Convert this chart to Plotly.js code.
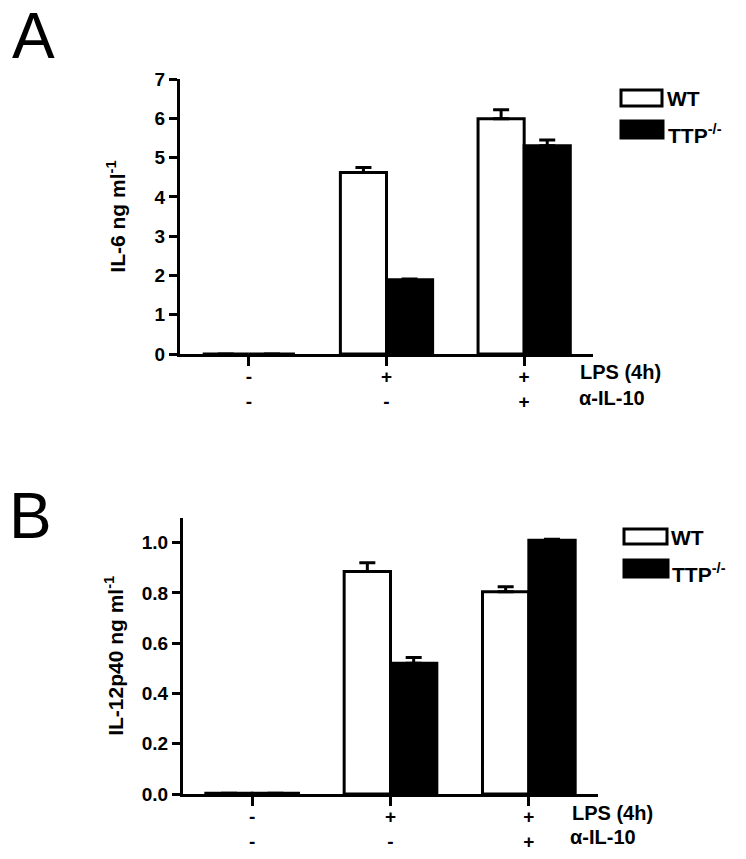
<!DOCTYPE html>
<html>
<head>
<meta charset="utf-8">
<script src="https://cdn.plot.ly/plotly-3.0.1.min.js"></script>
<style>
  html, body { margin: 0; padding: 0; background: #fff; }
  #chart { width: 746px; height: 859px; }
</style>
</head>
<body>
<div id="chart"></div>
<script>
// treatment groups and the two rows of +/- under the x axis
var categories = ['none', 'LPS', 'LPS + anti-IL-10'];
var lpsRow = ['-', '+', '+'];
var il10Row = ['-', '-', '+'];

// panel A: IL-6 (ng/ml), mean and upper error
var il6WT = [0, 4.62, 5.99];
var il6WTErr = [0, 0.13, 0.23];
var il6TTP = [0, 1.89, 5.30];
var il6TTPErr = [0, 0.02, 0.15];

// panel B: IL-12p40 (ng/ml)
var il12WT = [0.003, 0.885, 0.805];
var il12WTErr = [0, 0.035, 0.02];
var il12TTP = [0.003, 0.52, 1.01];
var il12TTPErr = [0, 0.023, 0.004];

var W = 746, H = 859;
function px(x) { return x / W; }
function py(y) { return 1 - y / H; }

var FONT = 'Liberation Sans, Arial, sans-serif';

function makeBars(name, vals, errs, fill, xa, ya) {
  return {
    type: 'bar',
    name: name,
    x: categories,
    y: vals,
    xaxis: xa,
    yaxis: ya,
    marker: {color: fill, line: {color: '#000', width: 3}},
    error_y: {
      type: 'data',
      symmetric: false,
      array: errs,
      arrayminus: errs.map(function () { return 0; }),
      color: '#000',
      thickness: 3,
      width: 8
    },
    showlegend: false,
    hoverinfo: 'skip'
  };
}

var data = [
  makeBars('WT', il6WT, il6WTErr, '#fff', 'x', 'y'),
  makeBars('TTP-/-', il6TTP, il6TTPErr, '#000', 'x', 'y'),
  makeBars('WT', il12WT, il12WTErr, '#fff', 'x2', 'y2'),
  makeBars('TTP-/-', il12TTP, il12TTPErr, '#000', 'x2', 'y2')
];

var tickText = categories.map(function (c, i) { return lpsRow[i] + '<br>' + il10Row[i]; });

function xAxis(domain, anchor) {
  return {
    domain: domain,
    anchor: anchor,
    type: 'category',
    range: [-0.5, 2.5],
    tickmode: 'array',
    tickvals: categories,
    ticktext: tickText,
    showline: true,
    linewidth: 3,
    linecolor: '#000',
    ticks: 'outside',
    ticklen: 9,
    tickwidth: 3,
    tickcolor: '#000',
    ticklabelstandoff: -6,
    showgrid: false,
    zeroline: false,
    tickfont: {family: FONT, size: 19, weight: 'bold', color: '#000'},
    fixedrange: true
  };
}

function yAxis(domain, anchor, range, dtick, fmt, title, standoff) {
  return {
    domain: domain,
    anchor: anchor,
    range: range,
    dtick: dtick,
    tick0: 0,
    tickformat: fmt,
    showline: true,
    linewidth: 3,
    linecolor: '#000',
    ticks: 'outside',
    ticklen: 8,
    tickwidth: 3,
    tickcolor: '#000',
    showgrid: false,
    zeroline: false,
    tickfont: {family: FONT, size: 19, weight: 'bold', color: '#000'},
    title: {text: title, standoff: standoff,
            font: {family: FONT, size: 21, weight: 'bold', color: '#000'}},
    fixedrange: true
  };
}

function label(text, x, y, size, weight) {
  return {
    text: text, xref: 'paper', yref: 'paper', x: px(x), y: py(y),
    xanchor: 'left', yanchor: 'middle', showarrow: false,
    font: {family: FONT, size: size || 20, weight: weight || 'bold', color: '#000'}
  };
}

function box(x0, y0, x1, y1, fill) {
  return {
    type: 'rect', xref: 'paper', yref: 'paper',
    x0: px(x0), x1: px(x1), y0: py(y1), y1: py(y0),
    fillcolor: fill, line: {color: '#000', width: 3}
  };
}

var layout = {
  width: W,
  height: H,
  margin: {l: 0, r: 0, t: 0, b: 0},
  paper_bgcolor: '#fff',
  plot_bgcolor: '#fff',
  barmode: 'group',
  bargap: 0.33,
  bargroupgap: 0,
  showlegend: false,
  xaxis: xAxis([px(180), px(593)], 'y'),
  yaxis: yAxis([py(354), py(79)], 'x', [0, 7], 1, 'd', 'IL-6 ng ml<sup>-1</sup>', 24),
  xaxis2: xAxis([px(183), px(598)], 'y2'),
  yaxis2: yAxis([py(794), py(517.6)], 'x2', [0, 1.1], 0.2, '.1f', 'IL-12p40 ng ml<sup>-1</sup>', 13),
  shapes: [
    box(621, 90, 662, 106, '#fff'),
    box(621, 121, 663, 138, '#000'),
    box(624, 529, 667, 544, '#fff'),
    box(624, 560, 668, 577, '#000')
  ],
  annotations: [
    label('A', 10, 36, 64, 'normal'),
    label('B', 7, 516, 64, 'normal'),
    label('WT', 665, 98, 21),
    label('TTP<sup>-/-</sup>', 666, 134, 21),
    label('WT', 669, 537, 21),
    label('TTP<sup>-/-</sup>', 670, 573, 21),
    label('LPS (4h)', 578, 372),
    label('α-IL-10', 577, 398),
    label('LPS (4h)', 570, 813),
    label('α-IL-10', 568, 837)
  ]
};

Plotly.newPlot('chart', data, layout, {staticPlot: true});
</script>
</body>
</html>
